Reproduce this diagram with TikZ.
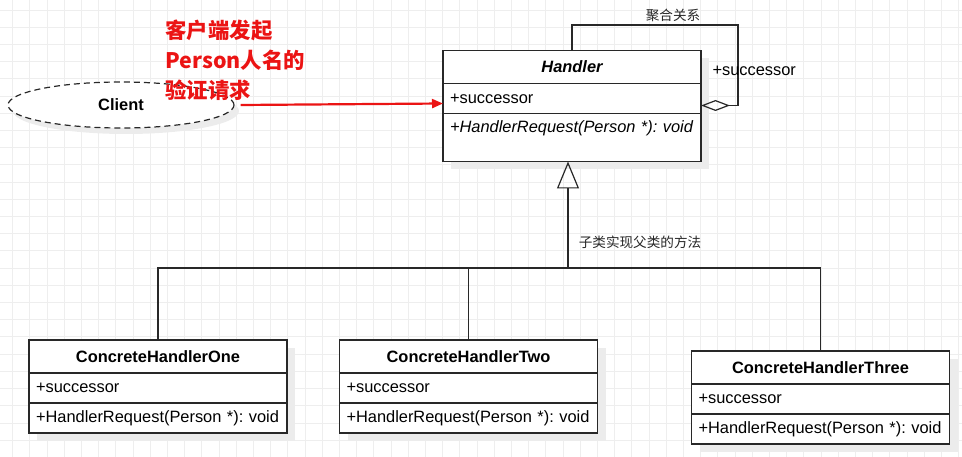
\documentclass[tikz,border=0pt]{standalone}
\usepackage{fontspec}
\setmainfont{Liberation Sans}
\newfontfamily\cjk{Noto Sans CJK SC}
\usetikzlibrary{arrows.meta,positioning,shapes.geometric,shadows}
\definecolor{gridline}{RGB}{238,238,238}
\definecolor{umlline}{RGB}{40,40,40}
\definecolor{shadowgrey}{RGB}{236,236,236}
\definecolor{noteRed}{RGB}{235,20,20}
\newcommand\umlfont{\fontsize{16.4}{19}\selectfont\frenchspacing}

\begin{document}
\begin{tikzpicture}[
  x=1pt, y=-1pt,
  font=\umlfont,
  boxshadow/.style={drop shadow={shadow xshift=8pt, shadow yshift=-8pt,
    fill=shadowgrey, opacity=1}},
  classhead/.style={
    draw=umlline, fill=white, line width=1.2pt, outer sep=0pt,
    minimum width=258pt, minimum height=33pt,
    font=\umlfont\bfseries, boxshadow
  },
  member/.style={
    draw=umlline, fill=white, line width=1.2pt, outer sep=0pt,
    inner xsep=7pt, text width=244pt, minimum height=30pt,
    align=left, boxshadow
  },
  client/.style={
    ellipse, draw=umlline, fill=white, line width=1.2pt,
    dash pattern=on 6pt off 4pt, minimum width=226pt, minimum height=46pt,
    font=\umlfont\bfseries,
    drop shadow={shadow xshift=5pt, shadow yshift=-6pt, fill=shadowgrey, opacity=1}
  },
  link/.style={draw=umlline, line width=1.2pt},
  inherit/.style={link, -{Triangle[open, length=27pt, width=22pt]}},
  aggr/.style={link, -{Diamond[open, length=29pt, width=11pt]}},
  request/.style={draw=noteRed, line width=2.2pt, -{Triangle[length=11pt, width=9pt]}},
  note/.style={font=\cjk\fontsize{13.6}{16}\selectfont, text=black!85},
  redNote/.style={font=\cjk\bfseries\fontsize{21.4}{30}\selectfont, text=noteRed, align=left}
]
\useasboundingbox (0,0) rectangle (962,457);

% Grid
\foreach \gx in {12.7,29.9,...,962}
  \draw[gridline, line width=1pt] (\gx,0) -- (\gx,457);
\foreach \gy in {10.2,27.4,...,457}
  \draw[gridline, line width=1pt] (0,\gy) -- (962,\gy);

% Handler
\node[classhead, font=\umlfont\bfseries\itshape] (hdl) at (572,67) {Handler};
\node[member, below=0pt of hdl] (hdlAttr) {+successor};
\node[member, below=0pt of hdlAttr, minimum height=48pt, text depth=22pt,
  font=\umlfont\itshape] (hdlOp) {+HandlerRequest(Person *): void};

% Concrete handlers
\node[classhead] (one) at (158,356.5) {ConcreteHandlerOne};
\node[member, below=0pt of one] (oneAttr) {+successor};
\node[member, below=0pt of oneAttr] (oneOp) {+HandlerRequest(Person *): void};

\node[classhead] (two) at (468.5,356.5) {ConcreteHandlerTwo};
\node[member, below=0pt of two] (twoAttr) {+successor};
\node[member, below=0pt of twoAttr] (twoOp) {+HandlerRequest(Person *): void};

\node[classhead] (three) at (820.5,367.5) {ConcreteHandlerThree};
\node[member, below=0pt of three] (threeAttr) {+successor};
\node[member, below=0pt of threeAttr] (threeOp) {+HandlerRequest(Person *): void};

% Client
\node[client] (client) at (121,105) {Client};
\node[redNote, anchor=west] (reqNote) at (162,60)
  {客户端发起\\Person人名的\\验证请求};

% Aggregation loop
\coordinate (loopTop) at (738,25);
\draw[aggr] (hdl.north) |- (loopTop) |- ([yshift=-7pt]hdlAttr.east);
\node[note] (aggrLbl) at (673,15) {聚合关系};
\node[anchor=west] (succLbl) at (709,71) {+successor};

% Generalization
\coordinate (bus) at (568,268);
\draw[link] (one.north) |- (three.north |- bus) -- (three.north);
\draw[link] (two.north) -- (two.north |- bus);
\draw[inherit] (bus) -- (bus |- hdlOp.south);
\node[note] (genLbl) at (640,242) {子类实现父类的方法};

% Request
\draw[request] ([xshift=6pt]client.east) -- ([yshift=-5pt]hdlAttr.west);

\end{tikzpicture}
\end{document}
